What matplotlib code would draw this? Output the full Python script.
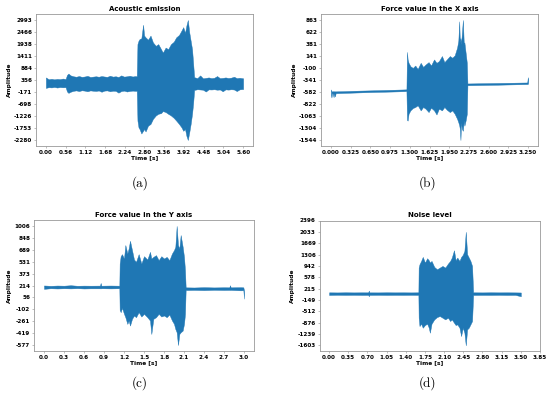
import matplotlib
matplotlib.use("Agg")
import matplotlib.pyplot as plt

# --- (a) Acoustic emission: envelope of the signal ---
t_a = [0.00, 0.08, 0.16, 0.24, 0.32, 0.40, 0.48, 0.56,
       0.60, 0.64, 0.70, 0.78, 0.86, 0.94, 1.02, 1.10, 1.18, 1.26, 1.34, 1.42,
       1.50, 1.58, 1.66, 1.74, 1.82, 1.90, 1.98, 2.06, 2.14, 2.22, 2.30, 2.38,
       2.46, 2.54, 2.58,
       2.60, 2.63, 2.66, 2.71, 2.76, 2.79, 2.83, 2.90, 2.97, 3.04, 3.12, 3.19,
       3.27, 3.32, 3.40, 3.47, 3.55, 3.63, 3.70, 3.78, 3.85, 3.90, 3.95, 3.99,
       4.03, 4.07, 4.11, 4.15, 4.18,
       4.21, 4.30, 4.38, 4.46, 4.54, 4.62, 4.70, 4.78, 4.86, 4.94, 5.02, 5.10,
       5.18, 5.26, 5.34, 5.42, 5.50, 5.60]
hi_a = [470, 390, 410, 385, 405, 395, 420, 400,
        580, 640, 560, 520, 500, 530, 495, 510, 540, 490, 505, 520,
        500, 530, 510, 495, 545, 505, 520, 490, 560, 505, 520, 545,
        510, 530, 520,
        1933, 2082, 2157, 2186, 2784, 2306, 2231, 2127, 2306, 2007, 1858, 1933,
        1709, 1560, 1783, 1709, 1933, 2037, 2231, 2336, 2530, 2679, 2425, 2754,
        2993, 2455, 2082, 1709, 1112,
        480, 440, 560, 430, 450, 470, 440, 455, 530, 440, 450, 470,
        445, 460, 500, 440, 455, 430]
lo_a = [10, 40, 30, 50, 25, 45, 35, 40,
        -150, -210, -160, -120, -100, -130, -95, -110, -140, -100, -115, -125,
        -105, -160, -110, -100, -140, -115, -120, -200, -130, -110, -150, -125,
        -110, -120, -120,
        -1427, -1725, -1800, -1994, -1875, -1800, -1904, -1650, -1576, -1352,
        -1203, -1128, -1098, -1009, -1053, -1128, -1203, -1307, -1427, -1576,
        -1725, -1875, -1800, -2098, -2280, -1949, -1576, -1128, -680,
        -80, -50, -60, -70, -150, -55, -60, -50, -70, -60, -140, -55,
        -65, -50, -60, -130, -55, -40]
xt_a = ["0.00", "0.56", "1.12", "1.68", "2.24", "2.80", "3.36", "3.92",
        "4.48", "5.04", "5.60"]
yt_a = [2993, 2466, 1938, 1411, 884, 356, -171, -698, -1226, -1753, -2280]

# --- (b) Force value in the X axis ---
t_b = [0.00, 0.01, 0.02, 0.03, 0.045, 0.055, 0.065, 0.08, 0.20, 0.40, 0.60,
       0.80, 1.00, 1.20, 1.245,
       1.254, 1.265, 1.28, 1.31, 1.35, 1.39, 1.43, 1.48, 1.52, 1.56, 1.61,
       1.65, 1.70, 1.74, 1.78, 1.83, 1.87, 1.91, 1.96, 2.00, 2.04, 2.08, 2.10,
       2.115, 2.125, 2.135, 2.145, 2.16, 2.175, 2.19, 2.20, 2.22, 2.24,
       2.25, 2.50, 2.75, 3.00, 3.235, 3.245, 3.25]
hi_b = [-530, -565, -570, -566, -568, -567, -568, -568, -565, -556, -550,
        -544, -537, -530, -528,
        222, 72, 4, -64, -98, -50, -119, 4, -78, -30, 18,
        -50, 72, 4, 38, 140, 18, 72, 140, 106, 154, 311, 450,
        836, 420, 500, 380, 618, 863, 380, 413, 209, 4,
        -410, -405, -400, -395, -390, -285, -330]
lo_b = [-640, -690, -605, -610, -685, -605, -670, -605, -600, -592, -584,
        -578, -572, -565, -562,
        -1141, -1155, -1019, -950, -903, -882, -848, -950, -882, -916, -984,
        -896, -950, -1032, -916, -950, -882, -937, -984, -950, -1019, -1121,
        -1189, -1250, -1325, -1544, -1200, -1325, -1359, -1150, -1257, -1155,
        -1019,
        -445, -440, -435, -428, -422, -420, -400]
xt_b = ["0.000", "0.325", "0.650", "0.975", "1.300", "1.625", "1.950",
        "2.275", "2.600", "2.925", "3.250"]
yt_b = [863, 622, 381, 141, -100, -341, -582, -822, -1063, -1304, -1544]

# --- (c) Force value in the Y axis ---
t_c = [0.00, 0.10, 0.20, 0.30, 0.40, 0.50, 0.60, 0.70, 0.84, 0.85, 0.86, 1.00,
       1.13,
       1.135, 1.15, 1.17, 1.20, 1.22, 1.25, 1.27, 1.29, 1.32, 1.35, 1.38, 1.42,
       1.46, 1.50, 1.55, 1.59, 1.61, 1.64, 1.68, 1.72, 1.76, 1.80, 1.84, 1.88,
       1.92, 1.95, 1.97, 1.99, 2.01, 2.03, 2.05, 2.08, 2.10, 2.115,
       2.125, 2.25, 2.40, 2.55, 2.70, 2.78, 2.79, 2.80, 2.95, 2.99, 3.00]
hi_c = [215, 210, 214, 212, 218, 211, 213, 212, 213, 248, 212, 214, 212,
        506, 604, 631, 573, 752, 640, 707, 809, 685, 560, 529, 631,
        506, 604, 560, 662, 573, 595, 618, 551, 604, 573, 595, 551,
        640, 685, 729, 1006, 752, 707, 885, 729, 595, 417,
        190, 188, 192, 189, 191, 190, 218, 190, 192, 190, 150]
lo_c = [170, 178, 175, 178, 176, 179, 175, 177, 177, 176, 178, 176, 178,
        -109, -140, -82, -162, -207, -296, -251, -318, -229, -184, -207, -140,
        -198, -162, -207, -251, -430, -229, -207, -162, -198, -184, -207, -171,
        -251, -296, -363, -407, -577, -430, -407, -385, -296, -162,
        154, 156, 153, 157, 155, 156, 155, 156, 150, 152, 40]
xt_c = ["0.0", "0.3", "0.6", "0.9", "1.2", "1.5", "1.8", "2.1", "2.4",
        "2.7", "3.0"]
yt_c = [1006, 848, 689, 531, 373, 214, 56, -102, -261, -419, -577]

# --- (d) Noise level ---
t_d = [0.00, 0.15, 0.30, 0.45, 0.60, 0.715, 0.725, 0.735, 0.90, 1.05, 1.20,
       1.35, 1.50, 1.63,
       1.635, 1.65, 1.68, 1.71, 1.75, 1.79, 1.82, 1.84, 1.87, 1.92, 1.97, 2.02,
       2.07, 2.12, 2.17, 2.21, 2.24, 2.28, 2.31, 2.34, 2.38, 2.41, 2.44, 2.47,
       2.495, 2.52, 2.55, 2.58, 2.61,
       2.63, 2.80, 2.95, 3.10, 3.25, 3.40, 3.50]
hi_d = [95, 92, 96, 93, 95, 94, 150, 94, 93, 96, 94, 95, 93, 95,
        887, 994, 1101, 1229, 1048, 1187, 1122, 1048, 1101, 908, 834, 887,
        941, 887, 1016, 1101, 1208, 1443, 1122, 1208, 1101, 1229, 1294, 1422,
        2033, 1315, 1208, 1101, 941,
        95, 93, 96, 94, 95, 93, 90]
lo_d = [10, 15, 12, 14, 11, 12, -30, 12, 14, 11, 13, 12, 14, 12,
        -718, -986, -911, -1039, -953, -911, -1039, -1199, -911, -772, -697,
        -665, -718, -772, -718, -825, -772, -879, -953, -932, -1039, -1307,
        -1039, -1199, -1603, -1092, -1039, -932, -825,
        10, 12, 11, 14, 10, 12, -30]
xt_d = ["0.00", "0.35", "0.70", "1.05", "1.40", "1.75", "2.10", "2.45",
        "2.80", "3.15", "3.50", "3.85"]
yt_d = [2396, 2033, 1669, 1306, 942, 578, 215, -149, -512, -876, -1239, -1603]

titles = ["Acoustic emission", "Force value in the X axis",
          "Force value in the Y axis", "Noise level"]
captions = ["(a)", "(b)", "(c)", "(d)"]

BLUE = "#1f77b4"
W, H = 550, 399


def view_limits(values, ticks):
    # matplotlib-like 5% margins, widened so every tick is visible
    lo, hi = min(values), max(values)
    pad = 0.05 * (hi - lo)
    return min(lo - pad, min(ticks)), max(hi + pad, max(ticks))


def draw_panel(ax, t, hi, lo, title, xt, yt):
    ax.fill_between(t, lo, hi, color=BLUE, linewidth=0.3, edgecolor=BLUE)
    xpos = [float(s) for s in xt]
    ax.set_xlim(*view_limits(t, xpos))
    ax.set_ylim(*view_limits(lo + hi, yt))
    ax.set_xticks(xpos, xt)
    ax.set_yticks(yt, [str(v) for v in yt])
    ax.set_title(title, fontsize=5.0, fontweight="bold", pad=2.5)
    ax.set_xlabel("Time [s]", fontsize=4.2, fontweight="bold", labelpad=0.5)
    ax.set_ylabel("Amplitude", fontsize=4.2, fontweight="bold", labelpad=1.5)
    ax.tick_params(labelsize=4.1, length=1.5, width=0.4, pad=1.2, color="0.55")
    for lbl in ax.get_xticklabels() + ax.get_yticklabels():
        lbl.set_fontweight("bold")
    for sp in ax.spines.values():
        sp.set_color("0.6")
        sp.set_linewidth(0.6)


fig = plt.figure(figsize=(W / 100, H / 100), dpi=100)

# axes boxes in pixels: left, right, top, bottom
boxes = [(36, 253, 14, 146), (321, 538, 14, 146),
         (34, 254, 220, 351), (319.5, 540, 220.5, 351)]
data = [(t_a, hi_a, lo_a, xt_a, yt_a), (t_b, hi_b, lo_b, xt_b, yt_b),
        (t_c, hi_c, lo_c, xt_c, yt_c), (t_d, hi_d, lo_d, xt_d, yt_d)]
cap_pos = [(140, 183), (428, 183), (140, 383), (428, 383)]

for i in range(4):
    l, r, top, b = boxes[i]
    ax = fig.add_axes([l / W, 1 - b / H, (r - l) / W, (b - top) / H])
    t, hi, lo, xt, yt = data[i]
    draw_panel(ax, t, hi, lo, titles[i], xt, yt)
    cx, cy = cap_pos[i]
    fig.text(cx / W, 1 - cy / H, captions[i], ha="center", va="center",
             fontsize=9.5, family="cmr10")

fig.savefig("out.png", dpi=100)
